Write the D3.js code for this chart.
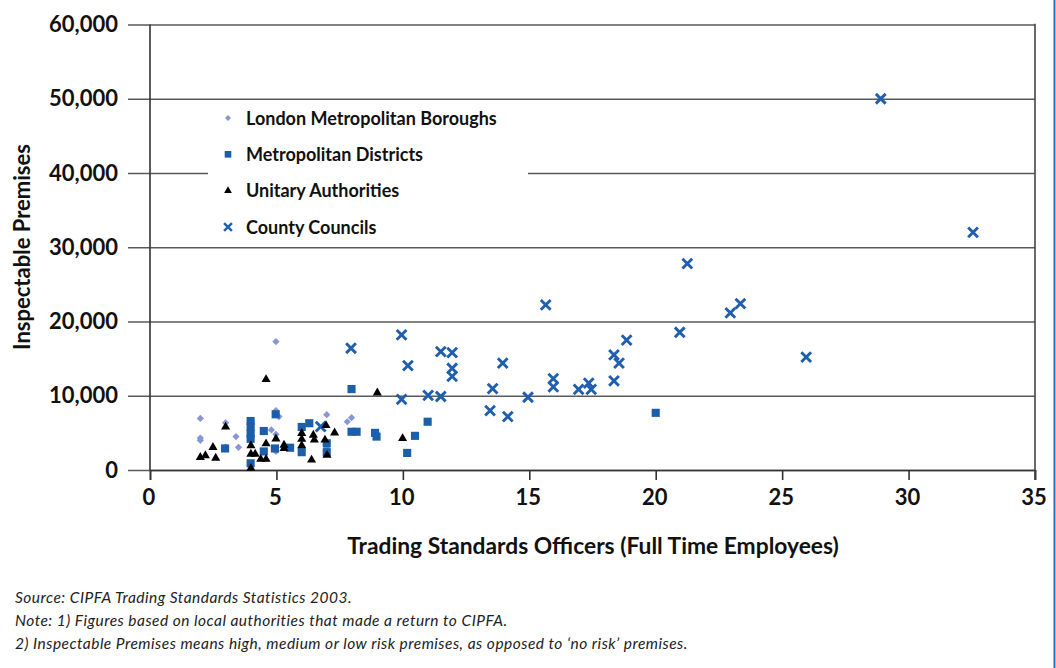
<!DOCTYPE html>
<html>
<head>
<meta charset="utf-8">
<script src="https://cdn.jsdelivr.net/npm/d3@7/dist/d3.min.js"></script>
<style>
  html, body { margin: 0; padding: 0; background: #fff; }
  svg { display: block; }
  text { font-family: Lato, "Open Sans", sans-serif; fill: #111; }
</style>
</head>
<body>
<svg id="chart" width="1056" height="668"></svg>
<script>
// Trading standards staffing vs. inspectable premises, by authority type
const xTicks = [0, 5, 10, 15, 20, 25, 30, 35];
const yTicks = [0, 10000, 20000, 30000, 40000, 50000, 60000];

const londonBoroughs = [
  [1.99, 6950], [1.99, 4300], [1.99, 4000], [2.99, 6350], [2.99, 3100],
  [3.4, 4500], [3.5, 3050], [4.8, 5400], [4.98, 17300], [4.98, 8000],
  [5.1, 7200], [4.98, 4800], [4.98, 2500], [6.99, 7450], [7.8, 6500],
  [7.97, 7050], [6.99, 3000]
];

const metropolitanDistricts = [
  [2.97, 2900], [3.98, 6600], [3.98, 5800], [3.98, 4900], [3.98, 4200],
  [3.98, 900], [4.5, 5250], [4.5, 2500], [4.97, 7500], [4.94, 2900],
  [5.54, 3000], [6.0, 5800], [6.0, 2400], [6.3, 6300], [6.99, 3600],
  [6.99, 2400], [7.97, 10900], [7.97, 5150], [8.17, 5150], [8.9, 5000],
  [8.96, 4500], [10.17, 2300], [10.48, 4600], [10.98, 6500], [20.0, 7700]
];

const unitaryAuthorities = [
  [1.99, 1700], [2.19, 1950], [2.49, 3050], [2.6, 1600], [2.99, 5800],
  [3.99, 3300], [3.99, 2150], [4.16, 2150], [3.99, 250], [4.38, 1450],
  [4.59, 1450], [4.59, 3550], [4.59, 12200], [4.98, 4200], [5.3, 3350],
  [5.3, 2900], [6.0, 4950], [6.0, 4150], [6.0, 3300], [6.39, 1350],
  [6.46, 4700], [6.5, 4050], [6.92, 4050], [6.96, 6000], [7.0, 2000],
  [7.3, 5000], [8.99, 10400], [9.99, 4250]
];

const countyCouncils = [
  [6.75, 5830], [7.95, 16400], [9.95, 18200], [9.95, 9500], [10.2, 14050],
  [11.0, 10050], [11.5, 9900], [11.5, 15950], [11.95, 15800], [11.95, 13700],
  [11.95, 12600], [13.45, 8000], [13.55, 10950], [13.95, 14400], [14.15, 7200],
  [14.95, 9800], [15.65, 22250], [15.95, 12300], [15.95, 11200], [16.95, 10850],
  [17.35, 11700], [17.45, 10850], [18.35, 15500], [18.35, 12000], [18.55, 14400],
  [18.85, 17500], [20.95, 18550], [21.25, 27800], [22.95, 21150], [23.35, 22400],
  [25.95, 15200], [28.9, 50000], [32.55, 32000]
];

const seriesNames = [
  "London Metropolitan Boroughs",
  "Metropolitan Districts",
  "Unitary Authorities",
  "County Councils"
];

const notes = [
  "Source: CIPFA Trading Standards Statistics 2003.",
  "Note: 1) Figures based on local authorities that made a return to CIPFA.",
  "2) Inspectable Premises means high, medium or low risk premises, as opposed to \u2018no risk\u2019 premises."
];

const svg = d3.select("#chart");
const plotLeft = 150, plotRight = 1035, plotTop = 24.5, plotBottom = 470;

const x = d3.scaleLinear().domain([0, 35]).range([plotLeft, plotRight]);
const y = d3.scaleLinear().domain([0, 60000]).range([plotBottom, plotTop]);

// horizontal gridlines extending left past the axis as tick marks
svg.append("g")
  .attr("transform", `translate(${plotRight},0)`)
  .call(d3.axisLeft(y).tickValues(yTicks).tickSize(plotRight - 128).tickFormat(""))
  .call(g => g.select(".domain").remove())
  .call(g => g.selectAll("line").attr("stroke", "#5a5a5a").attr("stroke-width", 1.4));

// y tick labels
svg.append("g").selectAll("text")
  .data(yTicks).join("text")
  .attr("x", 118)
  .attr("y", d => y(d) + 7.5)
  .attr("text-anchor", "end")
  .style("font-size", "22px")
  .style("font-weight", 700)
  .text(d => d3.format(",")(d));

// legend panel sits over the gridlines
const legend = svg.append("g");
legend.append("rect")
  .attr("x", 208).attr("y", y(50000) + 1.5)
  .attr("width", 320).attr("height", y(30000) - y(50000) - 3)
  .attr("fill", "#fff");

// x axis with downward ticks
svg.append("g")
  .attr("transform", `translate(0,${plotBottom})`)
  .call(d3.axisBottom(x).tickValues(xTicks).tickSize(10).tickFormat(""))
  .call(g => g.select(".domain").attr("stroke", "#333").attr("stroke-width", 1.6))
  .call(g => g.selectAll("line").attr("stroke", "#333").attr("stroke-width", 1.6));

svg.append("g").selectAll("text")
  .data(xTicks).join("text")
  .attr("x", d => x(d) - 1)
  .attr("y", 505)
  .attr("text-anchor", "middle")
  .style("font-size", "22px")
  .style("font-weight", 700)
  .text(d => d);

// y axis line and right frame
svg.append("line")
  .attr("x1", plotLeft).attr("x2", plotLeft).attr("y1", plotTop).attr("y2", plotBottom)
  .attr("stroke", "#333").attr("stroke-width", 1.6);
svg.append("line")
  .attr("x1", plotRight).attr("x2", plotRight).attr("y1", plotTop - 0.7).attr("y2", plotBottom + 10)
  .attr("stroke", "#444").attr("stroke-width", 1.6);

// page edge rule
svg.append("line")
  .attr("x1", 1054.5).attr("x2", 1054.5).attr("y1", 0).attr("y2", 668)
  .attr("stroke", "#2d6db8").attr("stroke-width", 2);

// marker shapes (diamond = square turned 45 degrees)
const colors = ["#8796d6", "#1b5fab", "#000", "#1f5fad"];
const diamond = { gen: d3.symbol().type(d3.symbolSquare).size(26), rot: 45 };
const square = { gen: d3.symbol().type(d3.symbolSquare).size(66), rot: 0 };
const triangle = { gen: d3.symbol().type(d3.symbolTriangle).size(36), rot: 0 };
const cross = { gen: d3.symbol().type(d3.symbolX).size(64), rot: 0 };

function drawSymbols(data, shape, color, stroke) {
  const g = svg.append("g");
  g.selectAll("path").data(data).join("path")
    .attr("transform", d => `translate(${x(d[0])},${y(d[1])}) rotate(${shape.rot})`)
    .attr("d", shape.gen())
    .attr("fill", stroke ? "none" : color)
    .attr("stroke", stroke ? color : "none")
    .attr("stroke-width", stroke ? 2.9 : 0);
}

drawSymbols(londonBoroughs, diamond, colors[0], false);
drawSymbols(countyCouncils, cross, colors[3], true);
drawSymbols(metropolitanDistricts, square, colors[1], false);
drawSymbols(unitaryAuthorities, triangle, colors[2], false);

// legend entries
const legendShapes = [
  { gen: d3.symbol().type(d3.symbolSquare).size(18), rot: 45 },
  { gen: d3.symbol().type(d3.symbolSquare).size(44), rot: 0 },
  { gen: d3.symbol().type(d3.symbolTriangle).size(26), rot: 0 },
  { gen: d3.symbol().type(d3.symbolX).size(42), rot: 0 }
];
const rowY = d3.scalePoint().domain(seriesNames).range([118, 227]);
const rows = legend.selectAll("g.row").data(seriesNames).join("g")
  .attr("transform", d => `translate(228,${rowY(d)})`);
rows.append("path")
  .attr("transform", (d, i) => `rotate(${legendShapes[i].rot})`)
  .attr("d", (d, i) => legendShapes[i].gen())
  .attr("fill", (d, i) => i === 3 ? "none" : colors[i])
  .attr("stroke", (d, i) => i === 3 ? colors[3] : "none")
  .attr("stroke-width", 2.4);
rows.append("text")
  .attr("x", 18).attr("y", 6.5)
  .style("font-size", "18px")
  .style("font-weight", 700)
  .text(d => d);

// axis titles
svg.append("text")
  .attr("x", 593).attr("y", 554)
  .attr("text-anchor", "middle")
  .style("font-size", "22.8px")
  .style("font-weight", 700)
  .text("Trading Standards Officers (Full Time Employees)");

svg.append("text")
  .attr("transform", "translate(30,247) rotate(-90)")
  .attr("text-anchor", "middle")
  .style("font-size", "22px")
  .style("font-weight", 700)
  .text("Inspectable Premises");

// footnotes
svg.append("g").selectAll("text")
  .data(notes).join("text")
  .attr("x", 15)
  .attr("y", (d, i) => 603 + i * 23)
  .style("font-size", "15.5px")
  .style("letter-spacing", "0.48px")
  .style("font-style", "italic")
  .style("fill", "#222")
  .text(d => d);
</script>
</body>
</html>
